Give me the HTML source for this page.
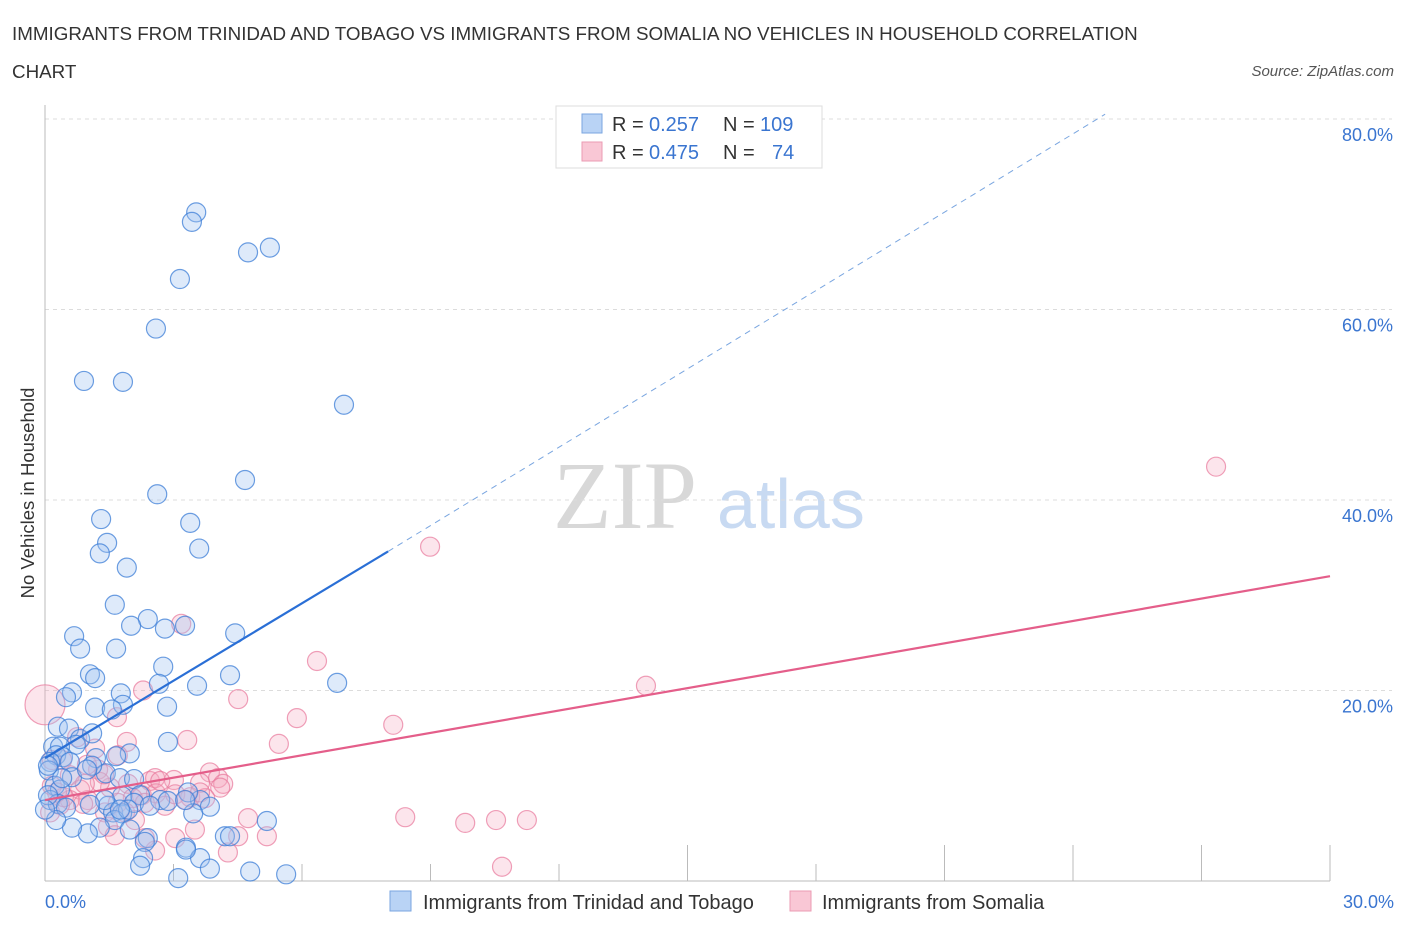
<!DOCTYPE html>
<html><head><meta charset="utf-8"><style>
body{margin:0;background:#fff;font-family:"Liberation Sans",sans-serif;}
svg text{font-family:"Liberation Sans",sans-serif;}
</style></head><body>
<svg id="chart" width="1406" height="930" xmlns="http://www.w3.org/2000/svg">
<text x="12" y="40" font-size="18.8" fill="#333">IMMIGRANTS FROM TRINIDAD AND TOBAGO VS IMMIGRANTS FROM SOMALIA NO VEHICLES IN HOUSEHOLD CORRELATION</text>
<text x="12" y="78" font-size="18.8" fill="#333">CHART</text>
<text x="1394" y="76" font-size="15" fill="#555" font-style="italic" text-anchor="end">Source: ZipAtlas.com</text>
<g>
<text x="553" y="528" font-size="96" fill="#d8d8d8" style="font-family:'Liberation Serif',serif">ZIP</text>
<text x="717" y="528" font-size="70" fill="#c8daf2">atlas</text>
</g>
<g id="grid"></g>
<g id="axes"></g>
<g id="pink"></g>
<g id="blue"></g>
<g id="lines"></g>
<g>
<rect x="556" y="106" width="266" height="62" fill="#fff" stroke="#ddd"/>
<rect x="582" y="114" width="20" height="19" fill="#b9d3f5" stroke="#7aa6e0"/>
<rect x="582" y="142" width="20" height="19" fill="#f9c7d5" stroke="#eb9bb3"/>
<text x="612" y="131" font-size="20" fill="#333">R = </text><text x="649" y="131" font-size="20" fill="#3a75d0">0.257</text>
<text x="723" y="131" font-size="20" fill="#333">N = </text><text x="760" y="131" font-size="20" fill="#3a75d0">109</text>
<text x="612" y="159" font-size="20" fill="#333">R = </text><text x="649" y="159" font-size="20" fill="#3a75d0">0.475</text>
<text x="723" y="159" font-size="20" fill="#333">N = </text><text x="772" y="159" font-size="20" fill="#3a75d0">74</text>
</g>
<text x="34" y="493" font-size="18.5" fill="#333" transform="rotate(-90 34 493)" text-anchor="middle">No Vehicles in Household</text>
<text x="45" y="908" font-size="18" fill="#3a75d0">0.0%</text>
<text x="1394" y="908" font-size="18" fill="#3a75d0" text-anchor="end">30.0%</text>
<g>
<rect x="390" y="891" width="21" height="20" fill="#b9d3f5" stroke="#7aa6e0"/>
<text x="423" y="909" font-size="20" fill="#333">Immigrants from Trinidad and Tobago</text>
<rect x="790" y="891" width="21" height="20" fill="#f9c7d5" stroke="#eb9bb3"/>
<text x="822" y="909" font-size="20" fill="#333">Immigrants from Somalia</text>
</g>
</svg>
<script>
const yTicks=[20,40,60,80];
const yTickLabels=["20.0%","40.0%","60.0%","80.0%"];
const xTicks=[3,6,9,12,15,18,21,24,27,30];
const blueX=[3.53,3.43,5.25,4.74,3.15,2.59,0.91,1.82,6.98,2.62,4.67,1.31,3.39,1.45,1.28,3.60,1.91,1.63,2.40,2.01,3.27,0.68,2.80,4.44,0.82,1.66,2.76,1.05,1.17,4.32,6.82,3.55,0.63,0.49,1.77,2.66,1.17,1.82,2.85,1.56,0.30,0.56,0.82,1.10,2.87,0.72,0.19,0.35,0.26,0.42,0.12,0.58,1.98,1.66,1.19,1.42,1.10,0.63,1.75,0.09,2.08,0.23,0.35,0.12,0.30,0.07,2.22,1.80,2.08,1.47,1.59,1.80,1.63,1.94,2.69,2.87,3.62,3.34,3.85,3.46,1.98,1.28,1.00,0.63,2.40,2.33,3.29,4.20,4.32,3.62,3.85,2.29,2.22,4.79,3.11,5.63,5.18,3.27,1.40,1.05,0.49,0.26,2.45,0.40,0.98,0.07,0.0,3.29,1.75];
const blueY=[70.2,69.2,66.5,66.0,63.2,58.0,52.5,52.4,50.0,40.6,42.1,38.0,37.6,35.5,34.4,34.9,32.9,29.0,27.5,26.8,26.8,25.7,26.5,26.0,24.4,24.4,22.5,21.7,21.3,21.6,20.8,20.5,19.8,19.3,19.7,20.7,18.2,18.5,18.3,18.0,16.2,16.0,14.9,15.5,14.6,14.3,14.1,14.1,13.2,13.0,12.5,12.5,13.4,13.1,12.9,11.3,12.1,10.9,10.8,11.6,10.7,10.0,9.6,8.5,8.1,9.0,9.0,8.9,8.2,7.9,7.2,7.1,6.4,7.5,8.5,8.4,8.5,9.3,7.8,7.1,5.4,5.6,5.0,5.6,4.5,4.1,3.5,4.7,4.7,2.4,1.3,2.4,1.6,1.0,0.3,0.7,6.3,8.5,8.5,8.0,7.7,6.4,7.9,10.8,11.7,12.1,7.5,3.3,7.5];
const pinkX=[0.0,8.99,27.34,3.18,6.35,14.03,4.51,5.88,8.13,1.68,2.29,5.46,3.32,1.91,1.17,0.75,0.40,1.24,0.98,0.58,0.16,3.85,4.04,3.62,4.16,4.09,2.45,2.57,3.01,1.94,2.26,2.59,2.05,1.52,1.28,1.00,0.82,0.58,0.35,0.12,1.40,1.70,2.33,2.80,3.04,3.39,3.74,4.74,8.41,9.81,10.53,11.25,5.18,4.51,3.50,3.04,4.27,2.57,1.47,1.63,2.33,10.67,0.16,0.93,0.44,0.28,1.87,2.10,3.62,3.29,2.69,1.70,1.38,0.89];
const pinkY=[18.5,35.1,43.5,27.0,23.1,20.5,19.1,17.1,16.4,17.2,20.0,14.4,14.8,14.6,13.9,15.1,12.7,11.7,12.2,11.1,12.7,11.4,10.8,10.3,10.2,9.8,10.5,10.8,10.6,10.2,9.0,9.2,8.7,9.8,10.4,8.5,9.6,8.5,8.0,7.2,7.2,8.2,8.2,7.9,9.1,8.8,8.7,6.6,6.7,6.1,6.4,6.4,4.7,4.7,5.4,4.5,3.0,3.2,5.7,4.8,4.5,1.5,10.0,10.2,8.8,9.3,7.2,6.4,9.3,8.5,10.5,13.2,11.2,8.1];
const blueTrendX=[0,8.01,24.75];
const blueTrendY=[12.9,34.6,80.5];
const pinkTrendX=[0,30];
const pinkTrendY=[8.5,32.0];
const NS="http://www.w3.org/2000/svg";
const X0=45,X1=1330,Y0=881,Y1=119;
const tallTicks=[15,21,24,27,30];
function sx(v){return X0+(X1-X0)*v/30;}
function sy(v){return Y0-(Y0-Y1)*v/80;}
function mk(tag,attrs,parent){const e=document.createElementNS(NS,tag);for(const k in attrs)e.setAttribute(k,attrs[k]);parent.appendChild(e);return e;}
const grid=document.getElementById('grid');
yTicks.forEach((t,i)=>{
 const l=mk('line',{x1:X0,x2:1392,y1:sy(t),y2:sy(t),stroke:'#dcdcdc','stroke-dasharray':'4,4'},grid);
 
 
 const tx=mk('text',{x:1393,y:sy(t)+22,'font-size':18,fill:'#3a75d0','text-anchor':'end'},grid);
 tx.textContent=yTickLabels[i];
 
 
});
const axes=document.getElementById('axes');
const ya=mk('line',{x1:X0,x2:X0,y1:105,y2:Y0,stroke:'#bbb'},axes);


const xa=mk('line',{x1:X0,x2:X1,y1:Y0,y2:Y0,stroke:'#bbb'},axes);


xTicks.forEach(t=>{
 const l=mk('line',{x1:sx(t),x2:sx(t),y1:tallTicks.includes(t)?845:864,y2:Y0,stroke:'#bbb'},axes);
 
 
});
const pg=document.getElementById('pink');
pinkX.forEach((v,i)=>{
 const c=mk('circle',{cx:sx(v),cy:sy(pinkY[i]),r:i===0?20:9.5,fill:'rgba(245,170,192,0.3)',stroke:'rgba(232,120,155,0.7)','stroke-width':1.2},pg);
 
 
});
const bg=document.getElementById('blue');
blueX.forEach((v,i)=>{
 const c=mk('circle',{cx:sx(v),cy:sy(blueY[i]),r:9.5,fill:'rgba(160,195,240,0.35)',stroke:'rgba(60,125,215,0.75)','stroke-width':1.2},bg);
 
 
});
const lg=document.getElementById('lines');
const b1=mk('line',{x1:sx(blueTrendX[0]),y1:sy(blueTrendY[0]),x2:sx(blueTrendX[1]),y2:sy(blueTrendY[1]),stroke:'#2a6fd6','stroke-width':2.2},lg);


const b2=mk('line',{x1:sx(blueTrendX[1]),y1:sy(blueTrendY[1]),x2:sx(blueTrendX[2]),y2:sy(blueTrendY[2]),stroke:'#7aa6e0','stroke-width':1,'stroke-dasharray':'6,5'},lg);


const p1=mk('line',{x1:sx(pinkTrendX[0]),y1:sy(pinkTrendY[0]),x2:sx(pinkTrendX[1]),y2:sy(pinkTrendY[1]),stroke:'#e45e8a','stroke-width':2.2},lg);


</script>
</body></html>
